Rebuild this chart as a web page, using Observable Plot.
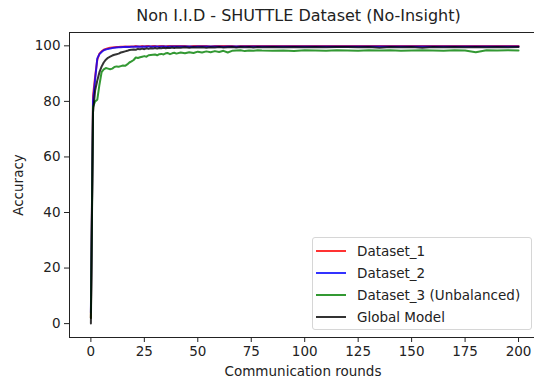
<!DOCTYPE html>
<html>
<head>
<meta charset="utf-8">
<script src="https://cdn.jsdelivr.net/npm/d3@7"></script>
<script src="https://cdn.jsdelivr.net/npm/@observablehq/plot@0.6"></script>
<style>
  body { margin: 0; background: #fff; font-family: "DejaVu Sans", sans-serif; }
  #wrap { position: relative; width: 534px; height: 379px; overflow: hidden; }
  #title { height: 28px; box-sizing: border-box; padding-left: 63px; padding-top: 4px; text-align: center;
           font-size: 16px; line-height: 24px; color: #222; white-space: nowrap; }
  #legend { position: absolute; left: 312px; top: 237px; width: 220px; height: 93px; box-sizing: border-box;
            border: 1px solid #d6d6d6; border-radius: 3px; background: rgba(255,255,255,0.8); }
  .item { position: absolute; left: 0; height: 22px; width: 100%; font-size: 13.5px; line-height: 22px; color: #222; white-space: nowrap; }
  .sw { position: absolute; left: 3px; top: 10px; width: 30px; height: 2px; }
  .lb { position: absolute; left: 44px; top: 0; }
</style>
</head>
<body>
<div id="wrap">
  <div id="title">Non I.I.D - SHUTTLE Dataset (No-Insight)</div>
  <div id="chart"></div>
  <div id="legend"></div>
</div>
<script>
const titleText = "Non I.I.D - SHUTTLE Dataset (No-Insight)";
const xLabel = "Communication rounds";
const yLabel = "Accuracy";
const xTicks = [0, 25, 50, 75, 100, 125, 150, 175, 200];
const yTicks = [0, 20, 40, 60, 80, 100];

const seriesNames = ["Dataset_1", "Dataset_2", "Dataset_3 (Unbalanced)", "Global Model"];
const seriesColors = ["#ff0000", "#0000ff", "#008000", "#000000"];

const rounds = [
  0,1,2,3,4,5,6,7,8,9,10,11,12,13,14,15,16,17,18,19,20,21,22,23,24,25,26,27,28,29,30,31,32,33,34,35,36,37,38,39,40,
  42,44,46,48,50,52,54,56,58,60,62,64,66,68,70,72,74,76,78,80,
  85,90,95,100,105,110,115,120,125,130,135,140,145,150,155,160,165,170,175,180,185,190,195,200
];

const dataset1 = [
  2, 82, 89, 95, 97.2, 98.0, 98.6, 98.9, 99.1, 99.3,
  99.4, 99.5, 99.6, 99.6, 99.7, 99.7, 99.8, 99.7, 99.8, 99.8,
  99.8, 99.9, 99.8, 99.8, 99.9, 99.8, 99.9, 99.9, 99.8, 99.9,
  99.9, 99.8, 99.9, 99.9, 99.9, 99.8, 99.9, 99.9, 99.9, 99.9, 99.9,
  99.9, 99.9, 99.8, 99.9, 99.9, 99.9, 99.9, 99.8, 99.9, 99.9, 99.9, 99.9, 99.9, 99.8, 99.9, 99.9, 99.9, 99.9, 99.9, 99.9,
  99.9, 99.9, 99.9, 99.9, 99.9, 99.9, 99.9, 99.9, 99.9, 99.9, 99.9, 99.9, 99.9, 99.9, 99.9, 99.9, 99.9, 99.9, 99.9, 99.9, 99.9, 99.9, 99.9, 99.9
];

const dataset2 = [
  4, 80, 88, 95.5, 97.0, 97.8, 98.4, 98.7, 98.9, 99.0,
  99.2, 99.3, 99.4, 99.5, 99.5, 99.6, 99.6, 99.7, 99.6, 99.7,
  99.7, 99.7, 99.8, 99.7, 99.7, 99.8, 99.7, 99.8, 99.8, 99.7,
  99.8, 99.8, 99.7, 99.8, 99.8, 99.8, 99.7, 99.8, 99.8, 99.8, 99.8,
  99.8, 99.8, 99.8, 99.7, 99.8, 99.8, 99.8, 99.8, 99.8, 99.8, 99.7, 99.8, 99.8, 99.8, 99.8, 99.8, 99.8, 99.8, 99.8, 99.8,
  99.8, 99.8, 99.8, 99.8, 99.8, 99.8, 99.8, 99.8, 99.8, 99.8, 99.8, 99.8, 99.8, 99.8, 99.8, 99.8, 99.8, 99.8, 99.8, 99.8, 99.8, 99.8, 99.8, 99.8
];

const dataset3 = [
  2, 78, 80, 80.6, 86, 90.5, 91.5, 92.0, 91.8, 91.6,
  91.8, 92.4, 92.6, 92.5, 92.7, 92.9, 92.8, 93.3, 94.0, 94.4,
  94.9, 95.8, 95.6, 95.9, 96.1, 96.3, 96.1, 96.6, 96.7, 96.8,
  96.9, 96.6, 97.0, 97.1, 96.9, 97.3, 97.4, 97.0, 97.3, 97.5, 97.2,
  97.6, 97.3, 97.7, 97.4, 97.9, 97.6, 98.0, 97.7, 98.1, 97.8, 98.2, 97.6, 98.2, 98.3, 98.4, 98.1, 98.3, 98.2, 98.4, 98.3,
  98.2, 98.3, 98.1, 98.4, 98.3, 98.2, 98.4, 98.3, 98.2, 98.4, 98.3, 98.4, 98.2, 98.3, 98.4, 98.3, 98.2, 98.4, 98.3, 97.7, 98.4, 98.3, 98.4, 98.3
];

const globalModel = [
  0, 76, 84, 87.5, 90.5, 92.5, 94.0, 95.0, 95.7, 96.1,
  96.5, 96.8, 97.0, 97.2, 97.6, 97.8, 98.0, 98.2, 98.5, 98.6,
  98.7, 98.6, 98.9, 98.8, 99.0, 98.8, 99.1, 98.9, 99.1, 99.0,
  99.2, 99.0, 99.2, 99.1, 99.3, 99.1, 99.3, 99.2, 99.4, 99.2, 99.4,
  99.3, 99.5, 99.3, 99.5, 99.4, 99.5, 99.3, 99.5, 99.4, 99.6, 99.4, 99.5, 99.6, 99.4, 99.6, 99.5, 99.6, 99.4, 99.6, 99.5,
  99.6, 99.5, 99.6, 99.5, 99.6, 99.5, 99.6, 99.6, 99.5, 99.6, 99.3, 99.6, 99.5, 99.6, 99.3, 99.6, 99.5, 99.6, 99.5, 99.6, 99.5, 99.6, 99.5, 99.6
];

const allSeries = [dataset1, dataset2, dataset3, globalModel];

const lineMarks = allSeries.map((vals, i) =>
  Plot.line(rounds.map((r, j) => ({round: r, acc: vals[j]})), {
    x: "round", y: "acc", stroke: seriesColors[i], strokeOpacity: 0.8, strokeWidth: 2
  })
);

const chart = Plot.plot({
  width: 534,
  height: 351,
  marginTop: 4,
  marginBottom: 42,
  marginLeft: 69,
  marginRight: -2,
  style: { fontFamily: "DejaVu Sans", fontSize: "13.5px", color: "#222", background: "transparent", overflow: "visible" },
  x: { domain: [-10, 208.4] },
  y: { domain: [-5, 104.8] },
  marks: [
    Plot.axisX({ ticks: xTicks, tickSize: 5, tickPadding: 4, label: xLabel, labelAnchor: "center", labelArrow: "none", labelOffset: 38 }),
    Plot.axisY({ ticks: yTicks, tickSize: 5, tickPadding: 4, label: yLabel, labelAnchor: "center", labelArrow: "none", labelOffset: 56 }),
    ...lineMarks,
    Plot.frame({ stroke: "#222", strokeWidth: 1 })
  ]
});
document.getElementById("chart").appendChild(chart);

const legend = document.getElementById("legend");
seriesNames.forEach((name, i) => {
  const item = document.createElement("div");
  item.className = "item";
  item.style.top = (2 + i * 22) + "px";
  const sw = document.createElement("div");
  sw.className = "sw";
  sw.style.background = seriesColors[i];
  sw.style.opacity = 0.8;
  const lb = document.createElement("div");
  lb.className = "lb";
  lb.textContent = name;
  item.appendChild(sw);
  item.appendChild(lb);
  legend.appendChild(item);
});
</script>
</body>
</html>
